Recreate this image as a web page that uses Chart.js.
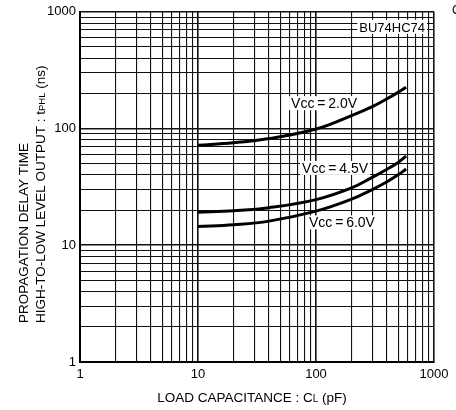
<!DOCTYPE html>
<html>
<head>
<meta charset="utf-8">
<script src="https://cdn.jsdelivr.net/npm/chart.js@4/dist/chart.umd.min.js"></script>
<style>
  html, body { margin: 0; padding: 0; background: #fff; }
  #wrap { width: 456px; height: 410px; }
</style>
</head>
<body>
<div id="wrap"><canvas id="chart" width="456" height="410"></canvas></div>
<script>
// load capacitance CL (pF) and tPHL (ns) for each supply voltage
const capacitance = [10, 20, 40, 100, 200, 300, 400, 500, 580];
const vcc20 = [72, 75.5, 82, 99, 129, 154, 180, 205, 226];
const vcc45 = [19.2, 19.8, 21.0, 24.6, 31.0, 38.2, 44.8, 51.5, 58];
const vcc60 = [14.5, 15.0, 16.1, 19.6, 24.8, 30.0, 35.0, 40.3, 45];

// log grid: 1..9 in every decade, labels only on the decades
const gridValues = [1, 2, 3, 4, 5, 6, 7, 8, 9,
  10, 20, 30, 40, 50, 60, 70, 80, 90,
  100, 200, 300, 400, 500, 600, 700, 800, 900, 1000];
const decadeLabels = [1, 10, 100, 1000];

// curve captions, placed in data coordinates
const curveNames = ['Vcc\u2009=\u20092.0V', 'Vcc\u2009=\u20094.5V', 'Vcc\u2009=\u20096.0V'];
const nameAtX = [117, 145, 166];
const nameAtY = [165, 46, 15.7];

const FONT = '"Liberation Sans", Arial, sans-serif';

function toPoints(ys) {
  return capacitance.map((x, i) => ({ x: x, y: ys[i] }));
}

function curve(ys) {
  return {
    data: toPoints(ys),
    borderColor: '#000',
    borderWidth: 3,
    pointRadius: 0,
    fill: false,
    tension: 0.4
  };
}

const gridOpts = {
  drawTicks: false,
  color: '#111',
  lineWidth: ctx => decadeLabels.includes(ctx.tick && ctx.tick.value) ? 1.6 : 1.1
};

const tickOpts = {
  autoSkip: false,
  maxRotation: 0,
  color: '#000',
  font: { family: FONT, size: 13 },
  callback: value => decadeLabels.includes(value) ? String(value) : ''
};

function setTicks(scale) {
  scale.ticks = gridValues.map(v => ({ value: v }));
}

// draws runs of text of mixed size (for the small subscripts)
function drawRuns(ctx, runs, x, y) {
  let cx = x;
  runs.forEach(r => {
    ctx.font = r[1] + 'px ' + FONT;
    ctx.fillText(r[0], cx, y);
    cx += ctx.measureText(r[0]).width;
  });
  return cx - x;
}

function runsWidth(ctx, runs) {
  let w = 0;
  runs.forEach(r => {
    ctx.font = r[1] + 'px ' + FONT;
    w += ctx.measureText(r[0]).width;
  });
  return w;
}

const labelsPlugin = {
  id: 'labels',
  afterDraw(chart) {
    const ctx = chart.ctx;
    const xs = chart.scales.x;
    const ys = chart.scales.y;
    const area = chart.chartArea;
    ctx.save();
    ctx.fillStyle = '#000';
    ctx.textBaseline = 'alphabetic';
    ctx.textAlign = 'left';

    // curve captions with a white backing over the grid
    ctx.font = '14px ' + FONT;
    curveNames.forEach((name, i) => {
      const px = xs.getPixelForValue(nameAtX[i]);
      const py = ys.getPixelForValue(nameAtY[i]);
      const w = ctx.measureText(name).width;
      ctx.fillStyle = '#fff';
      ctx.fillRect(px - w / 2 - 2, py - 7, w + 4, 14);
      ctx.fillStyle = '#000';
      ctx.fillText(name, px - w / 2, py + 5);
    });

    // part number box in the top right corner
    ctx.font = '13px ' + FONT;
    const part = 'BU74HC74';
    const pw = ctx.measureText(part).width;
    const bx = area.right - 9 - pw;
    ctx.fillStyle = '#fff';
    ctx.fillRect(bx - 2, area.top + 8, pw + 4, 14);
    ctx.fillStyle = '#000';
    ctx.fillText(part, bx, area.top + 20);

    // x axis title
    const xRuns = [['LOAD CAPACITANCE : C', 13.5], ['L', 10], [' (pF)', 13.5]];
    const xw = runsWidth(ctx, xRuns);
    drawRuns(ctx, xRuns, 252 - xw / 2, 402);

    // y axis title, two lines, read bottom to top
    ctx.translate(0, 323);
    ctx.rotate(-Math.PI / 2);
    drawRuns(ctx, [['PROPAGATION DELAY TIME', 13.5]], 0, 28);
    drawRuns(ctx, [['HIGH-TO-LOW LEVEL OUTPUT : t', 13.5], ['PHL', 9.5], [' (ns)', 13.5]], 0, 45);
    ctx.setTransform(1, 0, 0, 1, 0, 0);

    ctx.font = '12px ' + FONT;
    ctx.fillText('C', 452, 14);
    ctx.restore();
  }
};

const config = {
  type: 'line',
  data: {
    datasets: [curve(vcc20), curve(vcc45), curve(vcc60)]
  },
  options: {
    responsive: false,
    animation: false,
    layout: { padding: { top: 10, right: 22, left: 0, bottom: 0 } },
    plugins: {
      legend: { display: false },
      tooltip: { enabled: false }
    },
    scales: {
      x: {
        type: 'logarithmic',
        min: 1,
        max: 1000,
        afterBuildTicks: setTicks,
        afterFit: s => { s.height = 48; },
        grid: gridOpts,
        border: { color: '#000', width: 2 },
        ticks: Object.assign({ padding: 5 }, tickOpts)
      },
      y: {
        type: 'logarithmic',
        min: 1,
        max: 1000,
        afterBuildTicks: setTicks,
        afterFit: s => { s.width = 80; },
        grid: gridOpts,
        border: { color: '#000', width: 2 },
        ticks: Object.assign({ padding: 4 }, tickOpts)
      }
    }
  },
  plugins: [labelsPlugin]
};

new Chart(document.getElementById('chart'), config);
</script>
</body>
</html>
